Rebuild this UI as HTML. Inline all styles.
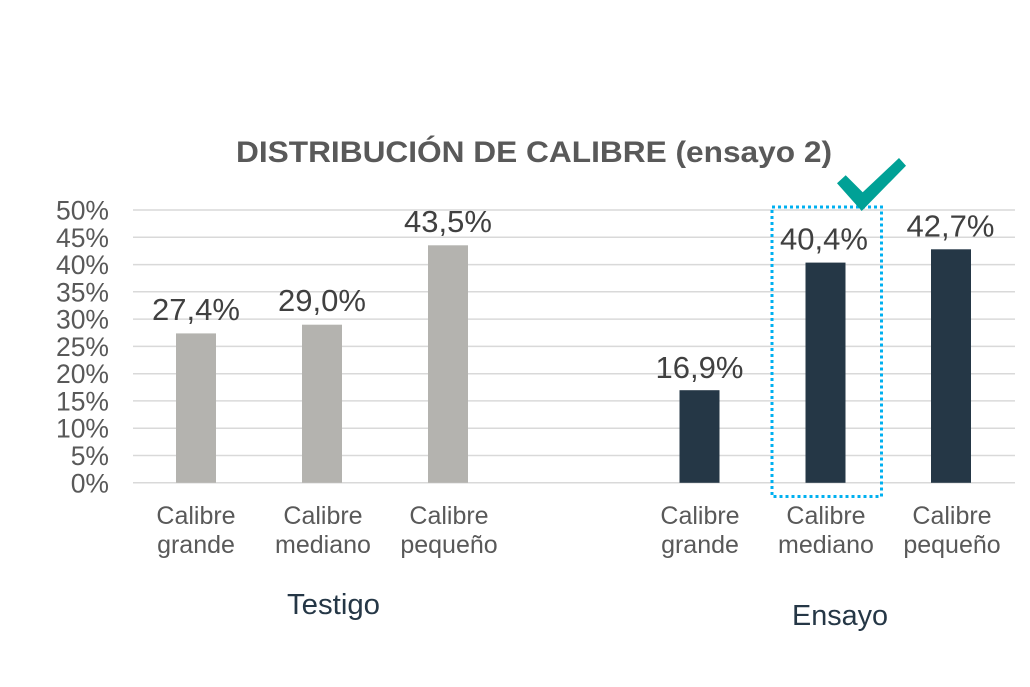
<!DOCTYPE html>
<html>
<head>
<meta charset="utf-8">
<style>
  html, body { margin: 0; padding: 0; background: #ffffff; }
  svg { display: block; }
  text { font-family: "Liberation Sans", Arial, sans-serif; }
</style>
</head>
<body>
<svg width="1030" height="687" viewBox="0 0 1030 687" xmlns="http://www.w3.org/2000/svg">
  <rect x="0" y="0" width="1030" height="687" fill="#ffffff"/>

  <!-- Title -->
  <text x="236" y="162" font-size="30" font-weight="bold" fill="#595959" textLength="596" lengthAdjust="spacingAndGlyphs">DISTRIBUCIÓN DE CALIBRE (ensayo 2)</text>

  <!-- Gridlines -->
  <g stroke="#d9d9d9" stroke-width="1.5">
    <line x1="133" y1="482.8" x2="1015" y2="482.8"/>
    <line x1="133" y1="455.5" x2="1015" y2="455.5"/>
    <line x1="133" y1="428.2" x2="1015" y2="428.2"/>
    <line x1="133" y1="400.9" x2="1015" y2="400.9"/>
    <line x1="133" y1="373.7" x2="1015" y2="373.7"/>
    <line x1="133" y1="346.4" x2="1015" y2="346.4"/>
    <line x1="133" y1="319.1" x2="1015" y2="319.1"/>
    <line x1="133" y1="291.8" x2="1015" y2="291.8"/>
    <line x1="133" y1="264.6" x2="1015" y2="264.6"/>
    <line x1="133" y1="237.3" x2="1015" y2="237.3"/>
    <line x1="133" y1="210.0" x2="1015" y2="210.0"/>
  </g>

  <!-- Y axis labels -->
  <g font-size="26.5" fill="#595959" text-anchor="end">
    <text x="109" y="492.3">0%</text>
    <text x="109" y="465.0">5%</text>
    <text x="109" y="437.7">10%</text>
    <text x="109" y="410.4">15%</text>
    <text x="109" y="383.2">20%</text>
    <text x="109" y="355.9">25%</text>
    <text x="109" y="328.6">30%</text>
    <text x="109" y="301.3">35%</text>
    <text x="109" y="274.1">40%</text>
    <text x="109" y="246.8">45%</text>
    <text x="109" y="219.5">50%</text>
  </g>

  <!-- Testigo bars -->
  <g fill="#b4b3af">
    <rect x="176" y="333.4" width="40" height="149.4"/>
    <rect x="302" y="324.7" width="40" height="158.1"/>
    <rect x="428" y="245.3" width="40" height="237.5"/>
  </g>

  <!-- Ensayo bars -->
  <g fill="#253746">
    <rect x="679.5" y="390.2" width="40" height="92.6"/>
    <rect x="805.5" y="262.6" width="40" height="220.2"/>
    <rect x="931" y="249.3" width="40" height="233.5"/>
  </g>

  <!-- Value labels -->
  <g font-size="31" fill="#404040" text-anchor="middle">
    <text x="196" y="320">27,4%</text>
    <text x="322" y="311">29,0%</text>
    <text x="448" y="232">43,5%</text>
    <text x="699.5" y="378">16,9%</text>
    <text x="824" y="249.5">40,4%</text>
    <text x="950.5" y="236.5">42,7%</text>
  </g>

  <!-- Dotted highlight box -->
  <rect x="772" y="207" width="109.5" height="289.5" fill="none" stroke="#00b0f0" stroke-width="3" stroke-dasharray="3 3"/>

  <!-- Checkmark -->
  <polygon points="837,183.3 845.7,175.3 862.7,192.3 899,158 906,165.7 861.7,211" fill="#00a196"/>

  <!-- Category labels -->
  <g font-size="25" fill="#595959" text-anchor="middle">
    <text x="196" y="524">Calibre</text>
    <text x="196" y="553">grande</text>
    <text x="323" y="524">Calibre</text>
    <text x="323" y="553">mediano</text>
    <text x="449" y="524">Calibre</text>
    <text x="449" y="553">pequeño</text>

    <text x="700" y="524">Calibre</text>
    <text x="700" y="553">grande</text>
    <text x="826" y="524">Calibre</text>
    <text x="826" y="553">mediano</text>
    <text x="952" y="524">Calibre</text>
    <text x="952" y="553">pequeño</text>
  </g>

  <!-- Group labels -->
  <text x="287" y="614" font-size="29" fill="#253746" textLength="93" lengthAdjust="spacingAndGlyphs">Testigo</text>
  <text x="792" y="625" font-size="29" fill="#253746" textLength="96" lengthAdjust="spacingAndGlyphs">Ensayo</text>
</svg>
</body>
</html>
